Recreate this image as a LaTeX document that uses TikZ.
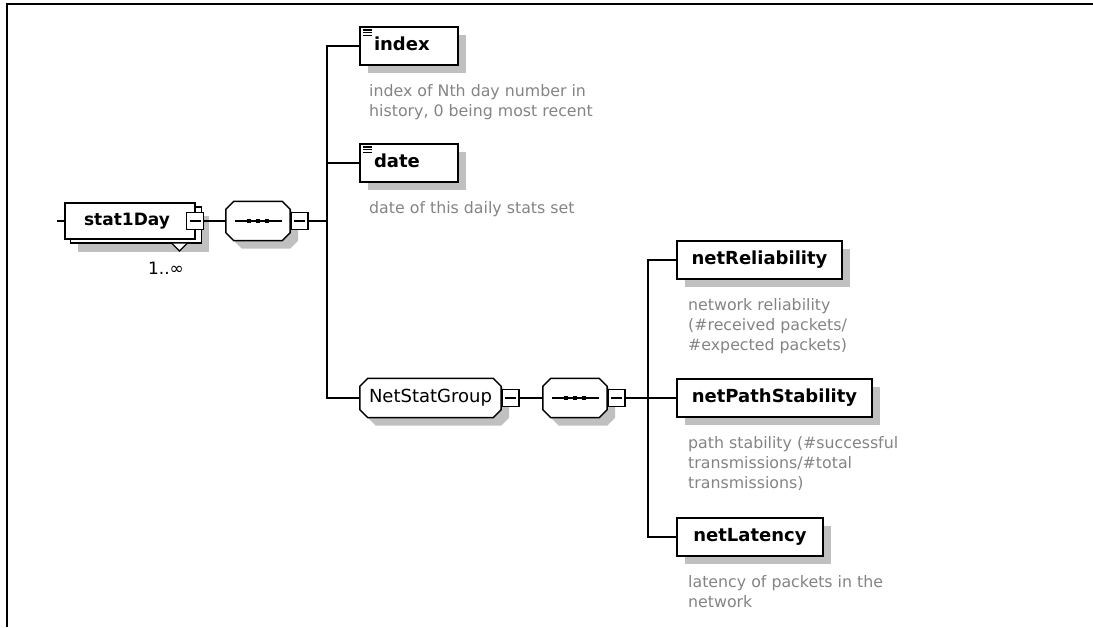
\documentclass[tikz,border=0pt]{standalone}
\usepackage{fontspec}
\setmainfont{DejaVu Sans}
\usetikzlibrary{calc,shadows}
\definecolor{shadowgray}{HTML}{C0C0C0}
\definecolor{notegray}{HTML}{848484}
\newcommand\octagonpath[2]{($(#1.north west)+(#2,0)$) -- ($(#1.north east)+(-#2,0)$) -- ($(#1.north east)+(0,#2)$) -- ($(#1.south east)+(0,-#2)$) -- ($(#1.south east)+(-#2,0)$) -- ($(#1.south west)+(#2,0)$) -- ($(#1.south west)+(0,-#2)$) -- ($(#1.north west)+(0,#2)$) -- cycle}
\begin{document}
\begin{tikzpicture}[x=1pt,y=-1pt,
  myshadow/.style={drop shadow={shadow xshift=8pt, shadow yshift=-8pt, fill=shadowgray, opacity=1}},
  conn/.style={line width=1.5pt},
  elem/.style={draw, line width=1.8pt, fill=white, inner sep=0pt, minimum height=38pt,
    text height=13pt, text depth=4pt, font=\bfseries\fontsize{18}{20}\selectfont, myshadow},
  boxlabel/.style={inner sep=0pt, text height=13pt, text depth=4pt, font=\bfseries\fontsize{17}{20}\selectfont},
  note/.style={anchor=north west, inner sep=0pt, align=left, text=notegray, font=\fontsize{15.8}{20}\selectfont},
  octnode/.style={inner sep=0pt, minimum height=39pt},
  octline/.style={draw, line width=1.5pt, fill=white, myshadow},
  btn/.style={draw, fill=white, line width=1.2pt, minimum size=17pt, inner sep=0pt,
    path picture={\draw[line width=1.2pt] ([xshift=3pt]path picture bounding box.west) -- ([xshift=-3pt]path picture bounding box.east);}},
  seqline/.style={line width=1.3pt}
]
\useasboundingbox (0,0) rectangle (1093,627);
% frame
\draw[line width=2pt] (7,627) -- (7,4) -- (1093,4);

% stat1Day (stacked element)
\node[draw, fill=white, line width=1.8pt, minimum width=131pt, minimum height=36pt, inner sep=0pt,
  drop shadow={shadow xshift=7pt, shadow yshift=-9pt, fill=shadowgray, opacity=1}] (s1back) at (136,225) {};
\node[draw, fill=white, line width=1.8pt, minimum width=130pt, minimum height=36pt, inner sep=0pt] (s1) at (130,221) {};
\node[boxlabel] (s1label) at (127,221) {stat1Day};
\node[btn] (btn0) at (195,221) {};
\draw[line width=1.1pt, fill=white] (172,243.5) -- (179.5,251) -- (187,243.5);
\node[inner sep=0pt, anchor=base, font=\fontsize{17}{20}\selectfont] (mult) at (166,274) {1..∞};
\coordinate (in) at (57,221);
\draw[conn] (in) -- (s1.west);

% first sequence
\node[octnode, minimum width=64pt] (seq1) at (258,221) {};
\draw[octline] \octagonpath{seq1}{8};
\draw[seqline] ([xshift=-23pt]seq1.center) -- ([xshift=24pt]seq1.center);
\foreach \dx in {-9,0,9} \fill ([xshift=\dx pt]seq1.center) +(-2.4,-2.4) rectangle +(2.4,2.4);
\node[btn] (btn1) at (299.5,221) {};
\draw[conn] (btn0.east) -- (seq1.west);

% children of first sequence
\node[elem, minimum width=98pt, text width=70pt, align=left] (idx) at (409,46) {index};
\node[elem, minimum width=98pt, text width=70pt, align=left] (date) at (409,163) {date};
\foreach \n in {idx,date} {
  \draw[line width=1.2pt] ([shift={(3.5,3.8)}]\n.north west) -- +(9,0);
  \draw[line width=1.2pt] ([shift={(3.5,6.6)}]\n.north west) -- +(9,0);
  \draw[line width=1.2pt] ([shift={(3.5,9.4)}]\n.north west) -- +(9,0);
}
\node[note] (idxnote) at (369,82) {\strut index of Nth day number in\\history, 0 being most recent};
\node[note] (datenote) at (369,199) {\strut date of this daily stats set};

% NetStatGroup
\node[octnode, minimum width=141pt] (nsg) at (430.5,398) {};
\draw[octline] \octagonpath{nsg}{8};
\node[inner sep=0pt, font=\fontsize{18}{20}\selectfont] (nsglabel) at (nsg.center) {NetStatGroup};
\node[btn] (btn2) at (510.5,398) {};

% second sequence
\node[octnode, minimum width=64pt] (seq2) at (575,398) {};
\draw[octline] \octagonpath{seq2}{8};
\draw[seqline] ([xshift=-23pt]seq2.center) -- ([xshift=24pt]seq2.center);
\foreach \dx in {-9,0,9} \fill ([xshift=\dx pt]seq2.center) +(-2.4,-2.4) rectangle +(2.4,2.4);
\node[btn] (btn3) at (616.5,398) {};
\draw[conn] (btn2.east) -- (seq2.west);

% trunk 1
\coordinate (t1) at (327,221);
\draw[conn] (btn1.east) -- (t1);
\draw[conn] (t1) |- (idx.west);
\draw[conn] (t1) |- (date.west);
\draw[conn] (t1) |- (nsg.west);

% children of second sequence
\node[elem, minimum width=165pt] (nrel) at (759.5,260) {netReliability};
\node[elem, minimum width=195pt] (npath) at (774.5,398) {netPathStability};
\node[elem, minimum width=146pt] (nlat) at (750,537) {netLatency};
\node[note] (nrelnote) at (688,296) {\strut network reliability\\(\#received packets/\\\#expected packets)};
\node[note] (npathnote) at (688,434) {\strut path stability (\#successful\\transmissions/\#total\\transmissions)};
\node[note] (nlatnote) at (688,573) {\strut latency of packets in the\\network};

% trunk 2
\coordinate (t2) at (648,398);
\draw[conn] (btn3.east) -- (t2);
\draw[conn] (t2) |- (nrel.west);
\draw[conn] (t2) -- (npath.west);
\draw[conn] (t2) |- (nlat.west);
\end{tikzpicture}
\end{document}
